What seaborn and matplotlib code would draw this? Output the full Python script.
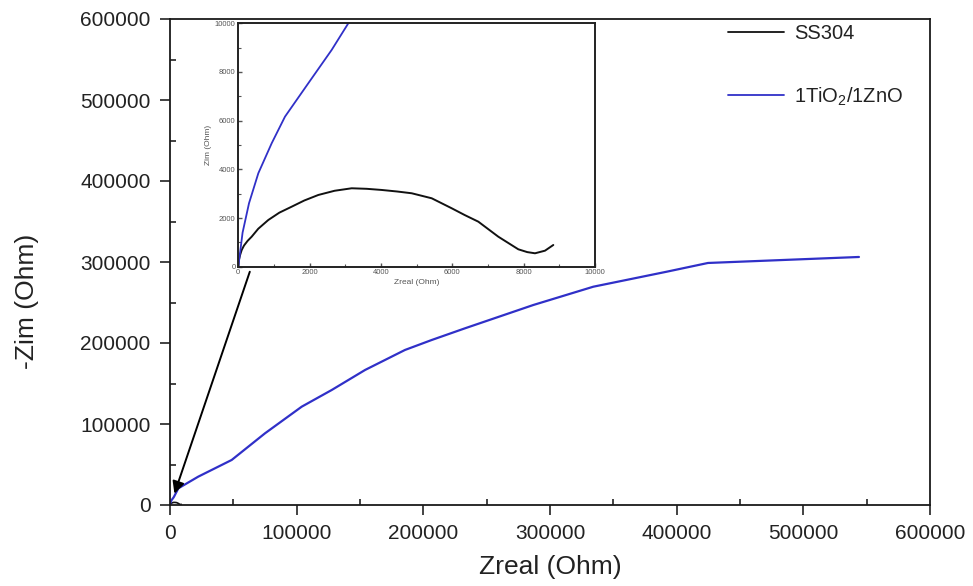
import matplotlib
matplotlib.use("Agg")
import matplotlib.pyplot as plt
import seaborn as sns
import numpy as np
from matplotlib.ticker import MultipleLocator

# ---------------- data ----------------
ss304_zreal = [0, 20, 50, 95, 160, 260, 375, 560, 841, 1150, 1497, 1850, 2243,
               2700, 3179, 3600, 4020, 4450, 4861, 5422, 5983, 6350, 6729,
               7289, 7850, 8100, 8318, 8598, 8831]
ss304_zim = [0, 300, 480, 686, 870, 1060, 1233, 1560, 1919, 2220, 2466, 2720,
             2947, 3120, 3222, 3200, 3153, 3090, 3017, 2811, 2400, 2120, 1850,
             1233, 715, 600, 551, 658, 892]

tizn_zreal = [0, 120, 300, 561, 936, 1309, 1963, 2618, 3084, 6600, 22300, 48700,
              75000, 104000, 127700, 154000, 185500, 206600, 233000, 286800,
              334200, 392100, 424700, 543900]
tizn_zim = [0, 1400, 2605, 3838, 5072, 6165, 7538, 8907, 10000, 20600, 35000,
            55600, 88500, 121400, 142000, 166700, 191400, 203700, 218200,
            246900, 269500, 288000, 298800, 306200]

series_labels = ["SS304", r"1TiO$_\mathregular{2}$/1ZnO"]
series_colors = ["#111111", "#3030c8"]

main_ticks = [0, 100000, 200000, 300000, 400000, 500000, 600000]
inset_ticks = [0, 2000, 4000, 6000, 8000, 10000]

# ---------------- style ----------------
sns.set_theme(style="ticks")
plt.rcParams["font.family"] = ["Liberation Sans", "DejaVu Sans"]
plt.rcParams["mathtext.fontset"] = "custom"
plt.rcParams["mathtext.rm"] = "Liberation Sans"

fig = plt.figure(figsize=(9.73, 5.86), dpi=100)
ax = fig.add_axes([170 / 973, 1 - 505 / 586, 760 / 973, 486 / 586])

sns.lineplot(x=ss304_zreal, y=ss304_zim, ax=ax, color=series_colors[0],
             lw=1.2, sort=False, estimator=None, label=series_labels[0])
sns.lineplot(x=tizn_zreal, y=tizn_zim, ax=ax, color=series_colors[1],
             lw=1.6, sort=False, estimator=None, label=series_labels[1])

ax.set_xlim(main_ticks[0], main_ticks[-1])
ax.set_ylim(main_ticks[0], main_ticks[-1])
ax.set_xticks(main_ticks)
ax.set_yticks(main_ticks)
ax.set_xticklabels([str(t) for t in main_ticks])
ax.set_yticklabels([str(t) for t in main_ticks])
ax.xaxis.set_minor_locator(MultipleLocator(50000))
ax.yaxis.set_minor_locator(MultipleLocator(50000))
ax.tick_params(which="major", direction="out", length=7, width=1.2,
               labelsize=15, pad=7, colors="#222222")
ax.tick_params(which="minor", direction="in", length=4, width=1.2,
               colors="#222222")
for sp in ax.spines.values():
    sp.set_linewidth(1.3)
    sp.set_color("#1a1a1a")

ax.set_xlabel("Zreal (Ohm)", fontsize=19, labelpad=8, color="#222222")
ax.set_ylabel("-Zim (Ohm)", fontsize=19, color="#222222")
ax.yaxis.set_label_coords(-0.172, 0.42)

leg = ax.legend(loc="upper left", bbox_to_anchor=(728 / 973, 1 - 24 / 586),
                bbox_transform=fig.transFigure, frameon=False, fontsize=14.5,
                handlelength=2.8, handletextpad=0.5, labelspacing=2.1,
                borderpad=0, borderaxespad=0)
for line in leg.get_lines():
    line.set_linewidth(1.3)
for txt in leg.get_texts():
    txt.set_color("#222222")

# arrow from inset to origin region
ax.annotate("", xy=(3500, 14000), xytext=(63000, 288000),
            arrowprops=dict(arrowstyle="-|>", color="black", lw=1.4,
                            mutation_scale=18, shrinkA=0, shrinkB=0))

# ---------------- inset ----------------
axi = fig.add_axes([238.3 / 973, 1 - 266.7 / 586, 356.7 / 973, 243.4 / 586])
sns.lineplot(x=ss304_zreal, y=ss304_zim, ax=axi, color=series_colors[0],
             lw=1.4, sort=False, estimator=None, legend=False)
sns.lineplot(x=tizn_zreal, y=tizn_zim, ax=axi, color=series_colors[1],
             lw=1.3, sort=False, estimator=None, legend=False)
axi.set_xlim(inset_ticks[0], inset_ticks[-1])
axi.set_ylim(inset_ticks[0], inset_ticks[-1])
axi.set_xticks(inset_ticks)
axi.set_yticks(inset_ticks)
axi.set_xticklabels([str(t) for t in inset_ticks])
axi.set_yticklabels([str(t) for t in inset_ticks])
axi.xaxis.set_minor_locator(MultipleLocator(1000))
axi.yaxis.set_minor_locator(MultipleLocator(1000))
axi.tick_params(which="major", direction="in", length=3, width=1.0,
                labelsize=5.5, pad=2, colors="#555555")
axi.tick_params(which="minor", direction="in", length=2, width=0.8,
                colors="#555555")
for sp in axi.spines.values():
    sp.set_linewidth(1.4)
    sp.set_color("#222222")
axi.set_xlabel("Zreal (Ohm)", fontsize=6, labelpad=2, color="#555555")
axi.set_ylabel("Zim (Ohm)", fontsize=6, labelpad=2, color="#555555")

fig.savefig("out.png", dpi=100)
